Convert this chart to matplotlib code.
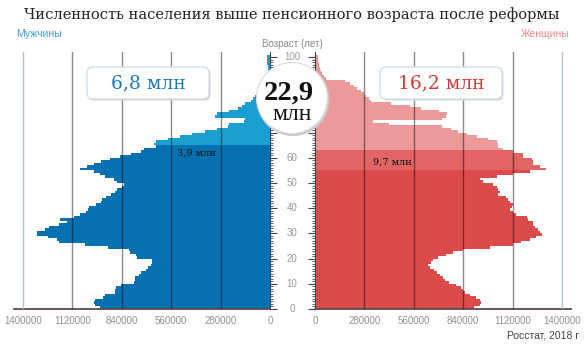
import matplotlib
matplotlib.use("Agg")
import matplotlib.pyplot as plt
from matplotlib.patches import Circle, FancyBboxPatch
import numpy as np

# population by single year of age, thousands (Rosstat 2018)
ages = np.arange(0, 101)
men = [965, 990, 995, 990, 945, 935, 880, 878, 875, 845,
       770, 766, 765, 745, 730, 700, 690, 675, 668, 670,
       755, 760, 795, 800, 920, 1050, 1195, 1210, 1260, 1320,
       1320, 1275, 1255, 1195, 1150, 1190, 1110, 1075, 1045, 1030,
       1025, 985, 960, 950, 930, 900, 880, 865, 840, 830,
       870, 885, 935, 965, 1000, 1075, 1040, 1000, 960, 905,
       850, 790, 730, 715, 645, 660, 645, 580, 510, 440,
       370, 300, 240, 230, 150, 140, 310, 300, 230, 180,
       160, 140, 110, 95, 85, 75, 65, 55, 45, 35,
       25, 12, 12, 10, 10, 12, 14, 15, 15, 15, 15]
women = [900, 935, 940, 935, 910, 880, 850, 840, 830, 800,
         760, 735, 725, 710, 690, 675, 650, 640, 660, 670,
         695, 745, 785, 840, 990, 1120, 1170, 1220, 1250, 1285,
         1275, 1265, 1245, 1237, 1237, 1210, 1200, 1140, 1125, 1105,
         1115, 1120, 1105, 1095, 1085, 1040, 1050, 1040, 1030, 1010,
         955, 935, 1030, 1125, 1220, 1310, 1275, 1237, 1237, 1228,
         1180, 1180, 1125, 1065, 1040, 1040, 1030, 980, 920, 860,
         810, 770, 720, 420, 330, 720, 740, 750, 700, 600,
         540, 430, 320, 305, 290, 280, 260, 240, 220, 200,
         170, 60, 50, 40, 35, 30, 25, 20, 18, 15, 15]

men_retire = 65
women_retire = 63
women_band = 55
x_ticks = [0, 280000, 560000, 840000, 1120000, 1400000]
age_labels = [0, 10, 20, 30, 40, 50, 60, 100]
total_men = "6,8 млн"
total_women = "16,2 млн"
total_all = "22,9"
band_men = "3,9 млн"
band_women = "9,7 млн"

W, H = 585, 347
XMAX = 1451000

men_dark, men_light = "#0571b0", "#1b9fd1"
wom_dark, wom_mid, wom_light = "#dc4b4b", "#e36464", "#eb9999"

plt.rcParams["font.family"] = ["Liberation Sans", "DejaVu Sans"]


def rect(x0, y0, x1, y1):
    return [x0 / W, 1 - y1 / H, (x1 - x0) / W, (y1 - y0) / H]


fig = plt.figure(figsize=(W / 100, H / 100), dpi=100)
fig.patch.set_facecolor("white")

axL = fig.add_axes(rect(14, 52, 270, 309))
axR = fig.add_axes(rect(315, 52, 571, 309))

men_colors = [men_light if a >= men_retire else men_dark for a in ages]
wom_colors = [wom_light if a >= women_retire else (wom_mid if a >= women_band else wom_dark)
              for a in ages]

axL.barh(ages, np.array(men) * 1000, height=1, align="edge", color=men_colors, lw=0, zorder=2)
axR.barh(ages, np.array(women) * 1000, height=1, align="edge", color=wom_colors, lw=0, zorder=2)

axL.set_xlim(XMAX, 0)
axR.set_xlim(0, XMAX)
for ax in (axL, axR):
    ax.set_ylim(0, 102)
    ax.set_facecolor("none")
    ax.spines["top"].set_visible(False)
    ax.spines["bottom"].set_color("#5e4a4a")
    ax.spines["bottom"].set_linewidth(1.3)
    ax.set_xticks(x_ticks)
    ax.set_xticklabels([str(t) for t in x_ticks])
    ax.tick_params(axis="x", length=0, pad=5, labelsize=7, labelcolor="#8d9096")
    for t in x_ticks[1:]:
        if t == 1400000:
            ax.axvline(t, color="#b3c3d0", lw=1, zorder=3)
        else:
            ax.axvline(t, color="black", alpha=0.45, lw=1, zorder=3)
    ax.set_yticks(range(0, 101, 10))
    ax.set_yticks(range(0, 101), minor=True)
    ax.tick_params(axis="y", which="major", length=5, width=0.8, color="#444",
                   labelleft=False, labelright=False)
    ax.tick_params(axis="y", which="minor", length=2.5, width=0.6, color="#444")

axL.spines["left"].set_visible(False)
axL.spines["right"].set_color("#444")
axL.yaxis.tick_right()
axR.spines["right"].set_visible(False)
axR.spines["left"].set_color("#444")
axR.yaxis.tick_left()
axL.tick_params(axis="y", labelright=False)

for a in age_labels:
    axL.text((292 - 14) / 256, a, str(a), transform=axL.get_yaxis_transform(),
             ha="center", va="center", fontsize=7, color="#9a9a9a")

axL.text(415000, 62, band_men, ha="center", va="center", fontsize=7,
         family="DejaVu Serif", color="#111", zorder=4)
axR.text(440000, 58.3, band_women, ha="center", va="center", fontsize=7,
         family="DejaVu Serif", color="#111", zorder=4)

# overlay in pixel coordinates for decorations
ov = fig.add_axes([0, 0, 1, 1], zorder=10)
ov.set_xlim(0, W)
ov.set_ylim(H, 0)
ov.axis("off")

ov.text(292, 15, "Численность населения выше пенсионного возраста после реформы",
        ha="center", va="center", fontsize=10.5, family="DejaVu Serif", color="#222")
ov.text(16, 34, "Мужчины", ha="left", va="center", fontsize=7.5, color="#3da0d8")
ov.text(570, 34, "Женщины", ha="right", va="center", fontsize=7.5, color="#f08a8a")
ov.text(292, 44, "Возраст (лет)", ha="center", va="center", fontsize=7, color="#8a8a8a")
ov.text(579, 335, "Росстат, 2018 г", ha="right", va="center", fontsize=7.5, color="#444")

# total boxes
for (x0, txt, col, shade) in [(87, total_men, "#1e78be", "#e6c6c6"),
                               (380, total_women, "#d43a3a", "#d8d8d8")]:
    ov.add_patch(FancyBboxPatch((x0 + 1.5, 68.5), 122, 32,
                                boxstyle="round,pad=0,rounding_size=6",
                                fc=shade, ec="none"))
    ov.add_patch(FancyBboxPatch((x0, 67), 122, 32,
                                boxstyle="round,pad=0,rounding_size=6",
                                fc="white", ec="#cfe0ea", lw=1))
    ov.text(x0 + 61, 83, txt, ha="center", va="center", fontsize=13.5,
            family="DejaVu Serif", color=col)

# central circle
ov.add_patch(Circle((293, 99.5), 36.5, fc="#c9c9c9", ec="none"))
ov.add_patch(Circle((292, 98), 35.5, fc="white", ec="#dcdcdc", lw=0.8))
ov.text(289, 100, total_all, ha="center", va="baseline", fontsize=20.5,
        family="Liberation Serif", weight="bold", color="#111")
ov.text(292, 120, "млн", ha="center", va="baseline", fontsize=17,
        family="Liberation Serif", color="#111")

fig.savefig("out.png", dpi=100)
